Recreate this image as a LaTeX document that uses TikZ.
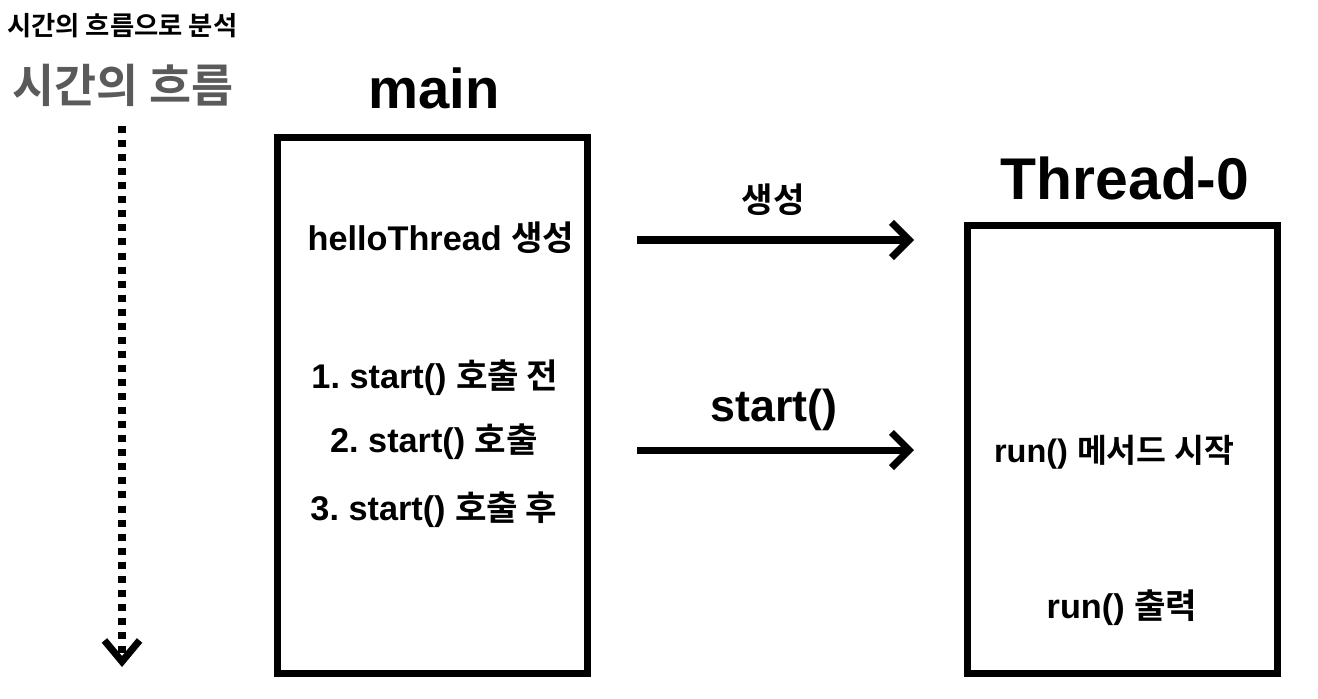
\documentclass[tikz,border=0pt]{standalone}
\usepackage{fontspec}
\setmainfont{Liberation Sans}
\newfontfamily\kr{Noto Sans CJK KR}[BoldFont={Noto Sans CJK KR Bold}]
\usetikzlibrary{arrows.meta,positioning}
\definecolor{flowgray}{HTML}{5A5A5A}
\frenchspacing
\tikzset{
  lane/.style={draw, line width=4pt, minimum width=6.2cm},
  step text/.style={font=\bfseries\fontsize{19.5}{23}\selectfont},
  head/.style={font=\bfseries\fontsize{32}{38}\selectfont},
  call/.style={-{Straight Barb[length=10pt,width=20pt]}, line width=4pt},
}
\begin{document}
\begin{tikzpicture}[x=0.02cm, y=-0.02cm]
\useasboundingbox (0,0) rectangle (1318,698);

% titles
\node [anchor=west, font=\kr\bfseries\fontsize{15}{18}\selectfont] (title) at (1,26) {시간의 흐름으로 분석};
\node [font=\kr\bfseries\fontsize{26}{30}\selectfont, text=flowgray] (flow) at (123,85) {시간의 흐름};

% time axis
\coordinate (t0) at (122,126);
\coordinate (t1) at (122,667);
\draw [line width=4pt, dash pattern=on 4pt off 4pt, -{Straight Barb[length=12pt,width=20pt]}] (t0) -- (t1);

% main
\node [lane, minimum height=10.72cm, anchor=north west] (main) at (274,134) {};
\node [head] (mainlabel) at (434,88) {main};
\node [step text] (hello) at (441,238) {helloThread {\kr 생성}};
\node [step text] (s1) at (435,378) {1. start() {\kr 호출 전}};
\node [step text] (s2) at (434,442) {2. start() {\kr 호출}};
\node [step text] (s3) at (434,510) {3. start() {\kr 호출 후}};

% Thread-0
\node [lane, minimum height=8.96cm, anchor=north west] (thread) at (964,222) {};
\node [head, font=\bfseries\fontsize{33.5}{40}\selectfont] (threadlabel) at (1125,178) {Thread-0};
\node [step text, font=\bfseries\fontsize{18.5}{22}\selectfont] (r1) at (1114,452) {run() {\kr 메서드 시작}};
\node [step text] (r2) at (1122,608) {run() {\kr 출력}};

% calls
\coordinate (c1a) at (637,240);
\coordinate (c1b) at (914,240);
\coordinate (c2a) at (637,450);
\coordinate (c2b) at (914,450);
\draw [call] (c1a) -- (c1b);
\draw [call] (c2a) -- (c2b);
\node [step text, font=\kr\bfseries\fontsize{19.5}{23}\selectfont] (create) at (773,200) {생성};
\node [font=\bfseries\fontsize{25.5}{30}\selectfont] (start) at (774,410) {start()};
\end{tikzpicture}
\end{document}
